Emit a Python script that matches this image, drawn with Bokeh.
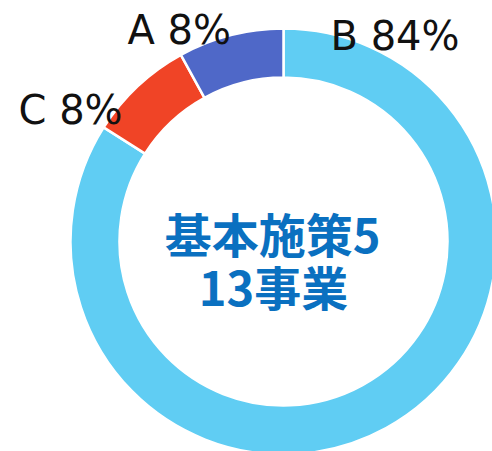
import math
from bokeh.plotting import figure
from bokeh.models import Range1d, ColumnDataSource
from bokeh.core.properties import value
from bokeh.embed import file_html
from bokeh.resources import INLINE

# data (drawn clockwise from 12 o'clock in this order)
categories = ["B", "C", "A"]
shares = [84, 8, 8]
colors = ["#60CDF3", "#F04426", "#4F68C8"]
center_lines = ["基本施策5", "13事業"]

# wedge angles from shares
total = sum(shares)
starts, ends = [], []
cum = 0.0
for s in shares:
    end = math.pi / 2 - 2 * math.pi * cum / total
    cum += s
    start = math.pi / 2 - 2 * math.pi * cum / total
    starts.append(start)
    ends.append(end)

src = ColumnDataSource(dict(cat=categories, share=shares, color=colors,
                            start=starts, end=ends))

W, H = 492, 451
p = figure(width=W, height=H, output_backend="svg", toolbar_location=None,
           x_range=Range1d(-283, 209), y_range=Range1d(-210, 241),
           min_border=0)
p.axis.visible = False
p.grid.visible = False
p.outline_line_color = None
p.background_fill_color = "white"

p.annular_wedge(x=0, y=0, inner_radius=164, outer_radius=213,
                start_angle="start", end_angle="end", direction="anticlock",
                fill_color="color", line_color="white", line_width=2.5,
                source=src)

# outside labels
label_pos = {"A": (-156, 212), "B": (47, 206), "C": (-265, 132)}
lx = [label_pos[c][0] for c in categories]
ly = [label_pos[c][1] for c in categories]
lt = [f"{c} {s}%" for c, s in zip(categories, shares)]
p.text(x=lx, y=ly, text=lt, text_font=value("DejaVu Sans"),
       text_font_size="40px", text_color="#111111",
       text_align="left", text_baseline="alphabetic")

# center text
p.text(x=[-11, -10], y=[9, -44], text=center_lines,
       text_font=value("Noto Sans CJK JP"), text_font_style="bold",
       text_font_size="47px", text_color="#0A70C0",
       text_align="center", text_baseline="middle")

open("out.html", "w").write(file_html(p, INLINE))
